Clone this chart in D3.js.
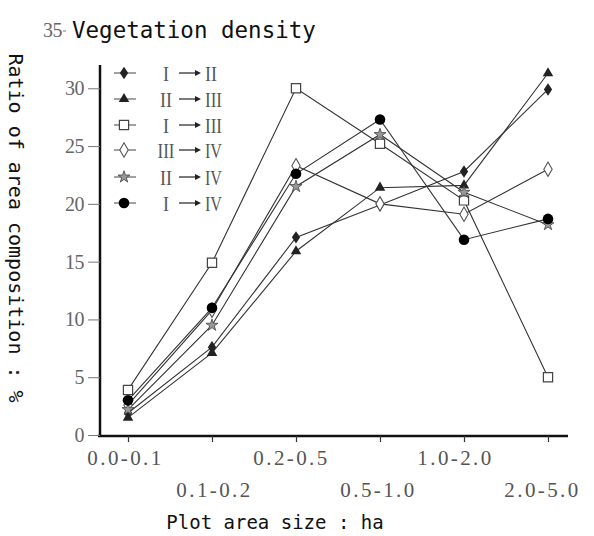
<!DOCTYPE html>
<html><head><meta charset="utf-8">
<script src="https://cdn.jsdelivr.net/npm/d3@7"></script>
<style>body{margin:0;background:#fff}</style>
</head><body><svg id="c" width="594" height="536"></svg>
<script>
const categories = ["0.0-0.1","0.1-0.2","0.2-0.5","0.5-1.0","1.0-2.0","2.0-5.0"];
const yTicks = [0,5,10,15,20,25,30,35];
const legendFrom = ["I","II","I","III","II","I"];
const legendTo   = ["II","III","III","IV","IV","IV"];
const markerTypes = ["fdiamond","triangle","square","odiamond","star","circle"];
const s_I_II   = [1.9, 7.6, 17.1, 19.9, 22.8, 29.9];
const s_II_III = [1.5, 7.1, 15.9, 21.4, 21.6, 31.3];
const s_I_III  = [3.9, 14.9, 30.0, 25.2, 20.3, 5.0];
const s_III_IV = [2.6, 10.8, 23.3, 20.0, 19.1, 23.0];
const s_II_IV  = [2.2, 9.5, 21.5, 26.0, 21.0, 18.2];
const s_I_IV   = [3.0, 11.0, 22.6, 27.3, 16.9, 18.7];
const seriesValues = [s_I_II, s_II_III, s_I_III, s_III_IV, s_II_IV, s_I_IV];

const svg = d3.select("#c");
const x = d3.scalePoint().domain(categories).range([128, 548]);
const y = d3.scaleLinear().domain([0, 35]).range([435, 30.5]);

// axes lines
svg.append("line").attr("x1",100).attr("x2",100).attr("y1",437).attr("y2",65)
  .attr("stroke","#111").attr("stroke-width",2.5);
svg.append("line").attr("x1",98).attr("x2",568).attr("y1",436).attr("y2",436)
  .attr("stroke","#111").attr("stroke-width",2.5);

// y axis ticks
const ya = svg.append("g").attr("transform","translate(100,0)")
  .call(d3.axisLeft(y).tickValues(yTicks).tickSize(12).tickPadding(4));
ya.select(".domain").remove();
ya.selectAll(".tick line").attr("stroke","#777").attr("stroke-width",1)
  .attr("x2", d => d === 35 ? -34 : -12).attr("x1", d => d === 35 ? -37 : 0);
ya.selectAll(".tick text").attr("font-family","Liberation Serif").attr("font-size",20)
  .attr("fill","#666").attr("letter-spacing",-0.5)
  .attr("x", d => d === 35 ? -38 : -16);

// x axis ticks + labels (alternating rows)
const xa = svg.append("g").attr("transform","translate(0,436)")
  .call(d3.axisBottom(x).tickSize(6).tickPadding(0));
xa.select(".domain").remove();
xa.selectAll(".tick line").attr("stroke","#333").attr("stroke-width",1.2);
xa.selectAll(".tick text").attr("font-family","Liberation Serif").attr("font-size",21)
  .attr("fill","#555").attr("letter-spacing",2.4)
  .attr("dy",null)
  .attr("y",(d,i)=> i%2===0 ? 29 : 61)
  .attr("x",(d,i)=> [-3, 2, -5, -2, -9, -6][i]);

// titles
svg.append("text").attr("x",72).attr("y",38).text("Vegetation density")
  .attr("font-family","DejaVu Sans Mono").attr("font-size",22.5).attr("fill","#111");
svg.append("text").attr("x",275).attr("y",529).attr("text-anchor","middle").text("Plot area size : ha")
  .attr("font-family","DejaVu Sans Mono").attr("font-size",19).attr("fill","#111");
svg.append("text").attr("transform","translate(9,228) rotate(90)").attr("text-anchor","middle")
  .text("Ratio of area composition : %")
  .attr("font-family","DejaVu Sans Mono").attr("font-size",20).attr("fill","#111");

// marker drawer
function drawMarker(g, type, cx, cy){
  const c = "#222";
  if(type==="fdiamond"){
    g.append("path").attr("d", d3.symbol(d3.symbolDiamond, 45)()).attr("transform",`translate(${cx},${cy}) scale(1.15,1)`)
      .attr("fill",c);
  } else if(type==="triangle"){
    g.append("path").attr("d", d3.symbol(d3.symbolTriangle, 48)()).attr("transform",`translate(${cx},${cy})`)
      .attr("fill",c);
  } else if(type==="square"){
    g.append("path").attr("d", d3.symbol(d3.symbolSquare, 85)()).attr("transform",`translate(${cx},${cy})`)
      .attr("fill","#fff").attr("stroke","#444").attr("stroke-width",1.2);
  } else if(type==="odiamond"){
    g.append("path").attr("d", d3.symbol(d3.symbolDiamond, 60)()).attr("transform",`translate(${cx},${cy})`)
      .attr("fill","#fff").attr("stroke","#555").attr("stroke-width",1.1);
  } else if(type==="star"){
    g.append("path").attr("d", d3.symbol(d3.symbolStar, 45)()).attr("transform",`translate(${cx},${cy})`)
      .attr("fill","#999").attr("stroke","#444").attr("stroke-width",0.8);
  } else if(type==="circle"){
    g.append("circle").attr("cx",cx).attr("cy",cy).attr("r",5.3).attr("fill","#000");
  }
}

// lines
const line = d3.line().x((d,i)=>x(categories[i])).y(d=>y(d));
const plot = svg.append("g");
seriesValues.forEach(vals=>{
  plot.append("path").attr("d", line(vals)).attr("fill","none")
    .attr("stroke","#333").attr("stroke-width",1.1);
});
seriesValues.forEach((vals,si)=>{
  vals.forEach((v,i)=> drawMarker(plot, markerTypes[si], x(categories[i]), y(v)));
});

// legend
const lg = svg.append("g");
const rowY = [73, 99, 125, 150, 177, 203];
const numW = {"I":6,"II":12,"III":17,"IV":17};
legendFrom.forEach((f,i)=>{
  const yy = rowY[i];
  lg.append("line").attr("x1",114).attr("x2",136).attr("y1",yy).attr("y2",yy)
    .attr("stroke","#444").attr("stroke-width",1);
  drawMarker(lg, markerTypes[i], 124, yy);
  lg.append("text").attr("x",166).attr("y",yy+8).attr("text-anchor","middle").text(f)
    .attr("font-family","Liberation Serif").attr("font-size",22).attr("fill","#555")
    .attr("textLength",numW[f]).attr("lengthAdjust","spacingAndGlyphs");
  lg.append("line").attr("x1",179).attr("x2",196).attr("y1",yy).attr("y2",yy)
    .attr("stroke","#222").attr("stroke-width",1.2);
  lg.append("path").attr("d",`M195,${yy-3}L201,${yy}L195,${yy+3}Z`).attr("fill","#222");
  lg.append("text").attr("x",205).attr("y",yy+8).text(legendTo[i])
    .attr("font-family","Liberation Serif").attr("font-size",22).attr("fill","#555")
    .attr("textLength",numW[legendTo[i]]).attr("lengthAdjust","spacingAndGlyphs");
});
</script></body></html>
